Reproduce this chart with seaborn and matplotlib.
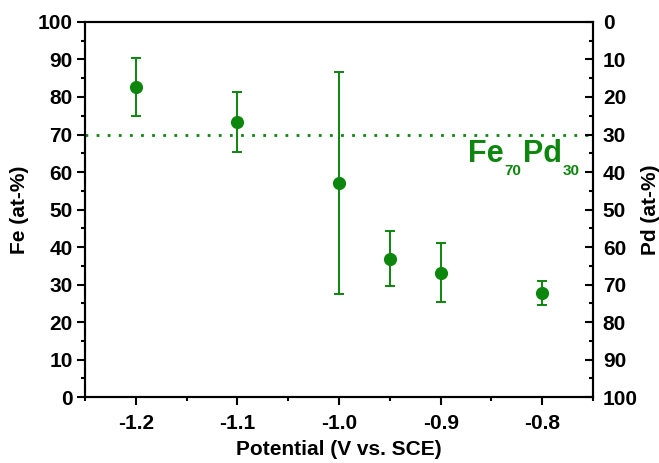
import seaborn as sns
import pandas as pd
import matplotlib.pyplot as plt
from matplotlib.ticker import MultipleLocator

# Fe content vs deposition potential
potential = [-1.2, -1.1, -1.0, -0.95, -0.9, -0.8]
fe_content = [82.7, 73.4, 57.0, 36.7, 33.2, 27.7]
err_upper = [90.3, 81.4, 86.6, 44.3, 41.1, 30.9]
err_lower = [74.9, 65.4, 27.5, 29.5, 25.4, 24.6]
xtick_labels = ['-1.2', '-1.1', '-1.0', '-0.9', '-0.8']

df = pd.DataFrame({'potential': potential, 'fe': fe_content})
green = '#0c860c'

sns.set_style('ticks')
plt.rcParams['font.family'] = ['Liberation Sans', 'DejaVu Sans']
plt.rcParams['font.weight'] = 'bold'
for k in ['text.color', 'axes.labelcolor', 'xtick.color', 'ytick.color', 'axes.edgecolor']:
    plt.rcParams[k] = 'black'

fig = plt.figure(figsize=(6.59, 4.63), dpi=100)
ax = fig.add_axes([0.129, 0.1425, 0.771, 0.81])

yerr = [[f - l for f, l in zip(fe_content, err_lower)],
        [u - f for f, u in zip(fe_content, err_upper)]]
ax.errorbar(potential, fe_content, yerr=yerr, fmt='none', ecolor=green,
            elinewidth=1.4, capsize=3.3, capthick=1.4, zorder=2)
sns.scatterplot(data=df, x='potential', y='fe', ax=ax, color=green, s=90,
                linewidth=0, zorder=3)

ax.axhline(70, color=green, linestyle=(0, (1, 3)), linewidth=2)

# Fe70Pd30 label with small subscripts
big, small = 22, 11
desc = 0.21 * big  # descent of the big font, in points
t1 = ax.text(-0.873, 62.7, 'Fe', color=green, fontsize=big, fontweight='bold',
             ha='left', va='baseline')
ax.annotate('70', xy=(1, 0), xycoords=t1, xytext=(0.5, desc - 1), textcoords='offset points',
            color=green, fontsize=small, fontweight='bold', ha='left', va='top')
t3 = ax.annotate('Pd', xy=(1, 0), xycoords=t1, xytext=(2 * 0.556 * small + 1.5, 0),
                 textcoords='offset points', color=green, fontsize=big, fontweight='bold',
                 ha='left', va='bottom')
ax.annotate('30', xy=(1, 0), xycoords=t3, xytext=(0.5, desc - 1), textcoords='offset points',
            color=green, fontsize=small, fontweight='bold', ha='left', va='top')

ax.set_xlim(-1.25, -0.75)
ax.set_ylim(0, 100)
ax.set_xticks([-1.2, -1.1, -1.0, -0.9, -0.8])
ax.set_xticklabels(xtick_labels)
ax.xaxis.set_minor_locator(MultipleLocator(0.05))
ax.yaxis.set_major_locator(MultipleLocator(10))
ax.yaxis.set_minor_locator(MultipleLocator(5))
ax.set_xlabel('Potential (V vs. SCE)', fontsize=15, fontweight='bold', labelpad=5)
ax.set_ylabel('Fe (at-%)', fontsize=15, fontweight='bold', labelpad=6)

ax2 = ax.twinx()
ax2.set_ylim(100, 0)
ax2.yaxis.set_major_locator(MultipleLocator(10))
ax2.yaxis.set_minor_locator(MultipleLocator(5))
ax2.set_ylabel('Pd (at-%)', fontsize=15, fontweight='bold', labelpad=2)

for a in (ax, ax2):
    for s in a.spines.values():
        s.set_linewidth(1.5)
        s.set_visible(True)
ax.tick_params(which='major', length=6, width=1.5, labelsize=15, direction='out', pad=3)
ax.tick_params(which='minor', length=3, width=1.5, direction='out')
ax.tick_params(axis='x', which='major', pad=6)
ax2.tick_params(which='major', length=6, width=1.5, labelsize=15, direction='in', pad=7)
ax2.tick_params(which='minor', length=3, width=1.5, direction='in')

fig.savefig('out.png', dpi=100)
